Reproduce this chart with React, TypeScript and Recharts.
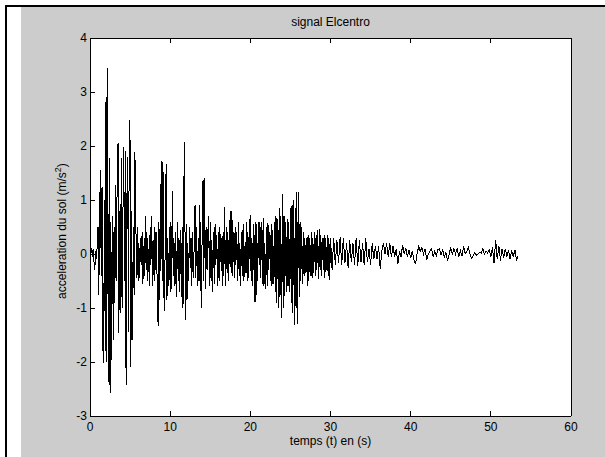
import { LineChart, Line, XAxis, YAxis, CartesianGrid } from 'recharts';

// ground acceleration (m/s²)
const accel0to10 = [
  0, 0.1, 0.1, -0.05, 0.1, -0.15, -0.3, 0.05, -0.1, 0.15,
  0.5, -0.76, 0.76, 1.55, -0.4, 1.24, -1.72, -2.02, 1.0, -1.8,
  2.9, -2.0, 3.44, -2.37, 1.78, -2.58, 0.6, -1.96, 0.7, -1.6,
  0.5, -0.9, 1.28, -0.5, 1.7, 2.05, -1.47, 0.8, -1.1, 1.77,
  -1.0, 0.6, 1.98, -0.5, 1.9, -2.43, 1.0, 1.8, -1.45, 2.48,
  2.07, -2.09, 0.8, -1.6, 0.5, -0.75, 1.88, 0.9, -0.45, 0.5,
  -0.5, 0.2, -0.45, 0.3, -0.2, 0.4, -0.55, 0.15, -0.4, 0.7,
  -0.3, 0.4, -0.5, 0.1, -0.6, 0.5, -0.2, 0.7, -0.6, 0.25,
  -0.5, 0.5, -0.3, 0.4, -0.9, -1.33, 0.6, -0.85, 0.7, 1.72,
  -0.5, 1.7, -0.7, -1.05, 0.6, 1.66, -0.85, 0.3, -0.6, 0.5,
];
const accel10to20 = [
  -0.7, 0.6, -0.65, 1.16, -0.4, 0.2, -0.6, 0.4, -0.8, 0.6,
  -0.5, 0.3, -0.7, 0.45, -0.8, 0.5, -1.0, 1.2, 2.07, -1.22,
  0.55, -0.85, 0.2, -0.5, 0.5, -0.25, 0.3, -0.6, 0.4, -0.45,
  0.2, 0.9, -0.45, 0.5, -0.6, 0.3, -0.5, 0.9, -0.4, -1.0,
  0.6, 1.37, -0.5, 1.4, -0.65, 0.5, -0.3, 0.4, 0.7, -0.6,
  0.6, -0.5, 0.25, -0.7, 0.4, -0.55, 0.55, -0.2, 0.35, -0.6,
  0.4, -0.5, 0.5, -0.15, 0.3, -0.6, 0.4, -0.4, 0.87, -0.6,
  0.5, -0.35, 0.4, -0.5, 0.3, 0.8, -0.35, 0.8, -0.4, 0.4,
  -0.45, 0.5, -0.2, 0.4, -0.5, 0.6, -0.4, 0.2, -0.6, 0.4,
  -0.4, 0.55, -0.5, 0.15, -0.35, 0.6, -0.5, 0.4, -0.45, 0.55,
];
const accel20to30 = [
  0.72, -0.5, 0.3, -0.6, 0.55, -0.88, 0.6, -0.88, 0.55, -0.5,
  0.6, -0.2, 0.6, -0.45, 0.6, -0.55, 0.66, -0.6, 0.2, -0.65,
  0.5, -0.6, 0.57, -0.3, 0.4, -0.5, 0.55, -0.6, 0.45, -0.55,
  0.6, -0.7, 0.7, -0.9, 0.65, -1.0, 0.85, -0.8, 0.7, -1.19,
  1.12, -1.0, 0.7, -0.77, 0.6, -0.7, 0.65, -0.6, 0.6, -0.7,
  0.85, -0.9, 0.9, -1.1, 1.0, -1.31, 0.85, -1.0, 1.14, -1.3,
  1.15, -0.8, 0.6, -0.5, 0.5, -0.55, 0.4, -0.4, 0.3, -0.35,
  0.3, -0.6, 0.35, -0.5, 0.3, -0.4, 0.4, -0.45, 0.3, -0.35,
  0.4, -0.4, 0.35, -0.3, 0.45, -0.47, 0.47, -0.3, 0.35, -0.4,
  0.3, -0.3, 0.35, -0.45, 0.3, -0.3, 0.35, -0.4, 0.3, -0.48,
];
// tail is coarser: one value every 0.2 s
const accel30to54 = [
  0.3, -0.3, 0.3, -0.2, 0.25, -0.17, 0.31, -0.2, 0.3, -0.17,
  0.2, -0.25, 0.25, -0.15, 0.2, -0.2, 0.3, -0.23, 0.25, -0.15,
  0.2, -0.2, 0.29, -0.15, 0.1, -0.2, 0.2, -0.1, 0.15, -0.1,
  0.15, -0.27, 0.05, 0.2, 0.0, 0.2, -0.05, 0.2, -0.06, 0.15,
  -0.05, 0.1, -0.19, 0.05, -0.05, 0.17, 0.0, 0.1, -0.05, 0.08,
  -0.08, 0.05, -0.1, -0.19, 0.0, 0.14, 0.05, 0.12, 0.0, 0.1,
  -0.11, 0.0, 0.05, 0.1, -0.05, 0.05, -0.03, 0.08, 0.1, -0.02,
  0.07, -0.05, 0.03, -0.13, 0.0, 0.12, -0.02, 0.1, 0.0, 0.11,
  -0.05, 0.06, -0.04, 0.14, 0.0, 0.05, 0.12, 0.0, -0.08, -0.03,
  0.02, -0.02, 0.0, 0.03, 0.02, 0.1, 0.0, 0.05, 0.02, 0.08,
  -0.05, 0.12, -0.17, 0.26, -0.1, 0.15, -0.12, 0.1, -0.08, 0.1,
  -0.05, 0.08, -0.1, 0.07, -0.05, 0.08, -0.12, -0.04,
];

const segments = [
  { start: 0, step: 0.1, values: accel0to10 },
  { start: 10, step: 0.1, values: accel10to20 },
  { start: 20, step: 0.1, values: accel20to30 },
  { start: 30, step: 0.2, values: accel30to54 },
];

const xTicks = [0, 10, 20, 30, 40, 50, 60];
const yTicks = [-3, -2, -1, 0, 1, 2, 3, 4];

const data = segments.flatMap((s) =>
  s.values.map((a, i) => ({ t: Math.round((s.start + i * s.step) * 100) / 100, a }))
);

const FONT = '"Liberation Sans", Arial, sans-serif';
const PLOT = { left: 90, top: 38, right: 571, bottom: 416 };
const TICK = 5;

const BottomTick = (props: any) => (
  <g>
    <line x1={props.x} x2={props.x} y1={PLOT.bottom} y2={PLOT.bottom - TICK} stroke="#000" shapeRendering="crispEdges" />
    <text x={props.x} y={PLOT.bottom + 15} textAnchor="middle" fontSize={12} fontFamily={FONT} fill="#000">
      {props.payload.value}
    </text>
  </g>
);
const TopTick = (props: any) => (
  <line x1={props.x} x2={props.x} y1={PLOT.top} y2={PLOT.top + TICK} stroke="#000" shapeRendering="crispEdges" />
);
const LeftTick = (props: any) => (
  <g>
    <line x1={PLOT.left} x2={PLOT.left + TICK} y1={props.y} y2={props.y} stroke="#000" shapeRendering="crispEdges" />
    <text x={PLOT.left - 3} y={props.y + 4} textAnchor="end" fontSize={12} fontFamily={FONT} fill="#000">
      {props.payload.value}
    </text>
  </g>
);
const RightTick = (props: any) => (
  <line x1={PLOT.right} x2={PLOT.right - TICK} y1={props.y} y2={props.y} stroke="#000" shapeRendering="crispEdges" />
);

const YLabel = () => {
  const cx = 66;
  const cy = 231;
  return (
    <text x={cx} y={cy} transform={`rotate(-90, ${cx}, ${cy})`} textAnchor="middle" fontSize={12} fontFamily={FONT} fill="#000">
      acceleration du sol (m/s<tspan dy={-5} fontSize={9}>2</tspan><tspan dy={5}>)</tspan>
    </text>
  );
};

const XLabel = () => (
  <text x={(PLOT.left + PLOT.right) / 2} y={445} textAnchor="middle" fontSize={12} fontFamily={FONT} fill="#000">
    temps (t) en (s)
  </text>
);

export default function App() {
  return (
    <div style={{ position: 'absolute', left: 0, top: 0, width: 605, height: 457, background: '#fff', overflow: 'hidden' }}>
      <div style={{ position: 'absolute', left: 5, top: 5, width: 600, height: 2, background: '#000' }} />
      <div style={{ position: 'absolute', left: 5, top: 5, width: 2, height: 452, background: '#000' }} />
      <div style={{ position: 'absolute', left: 21, top: 7, width: 584, height: 450, background: '#cccccc' }} />
      <div
        style={{
          position: 'absolute', left: PLOT.left, top: 14, width: PLOT.right - PLOT.left,
          textAlign: 'center', fontFamily: FONT, fontSize: 12, lineHeight: '16px', color: '#000',
        }}
      >
        signal Elcentro
      </div>
      <div style={{ position: 'absolute', left: 0, top: 0 }}>
        <LineChart width={605} height={457} data={data} margin={{ top: 37, right: 33, bottom: 0, left: 0 }}>
          <CartesianGrid xAxisId="b" yAxisId="l" fill="#fff" horizontal={false} vertical={false} stroke="none" />
          <XAxis
            xAxisId="b" dataKey="t" type="number" domain={[0, 60]} ticks={xTicks} height={41}
            axisLine={{ stroke: '#000', shapeRendering: 'crispEdges' }} tickLine={false} tick={BottomTick} interval={0}
            label={<XLabel />}
          />
          <XAxis
            xAxisId="t" orientation="top" dataKey="t" type="number" domain={[0, 60]} ticks={xTicks} height={1}
            axisLine={{ stroke: '#000', shapeRendering: 'crispEdges' }} tickLine={false} tick={TopTick} interval={0}
          />
          <YAxis
            yAxisId="l" type="number" domain={[-3, 4]} ticks={yTicks} width={90}
            axisLine={{ stroke: '#000', shapeRendering: 'crispEdges' }} tickLine={false} tick={LeftTick} interval={0}
            label={<YLabel />}
          />
          <YAxis
            yAxisId="r" orientation="right" type="number" domain={[-3, 4]} ticks={yTicks} width={1}
            axisLine={{ stroke: '#000', shapeRendering: 'crispEdges' }} tickLine={false} tick={RightTick} interval={0}
          />
          <Line
            xAxisId="b" yAxisId="l" type="linear" dataKey="a" stroke="#000" strokeWidth={1}
            shapeRendering="crispEdges" dot={false} isAnimationActive={false}
          />
        </LineChart>
      </div>
    </div>
  );
}
